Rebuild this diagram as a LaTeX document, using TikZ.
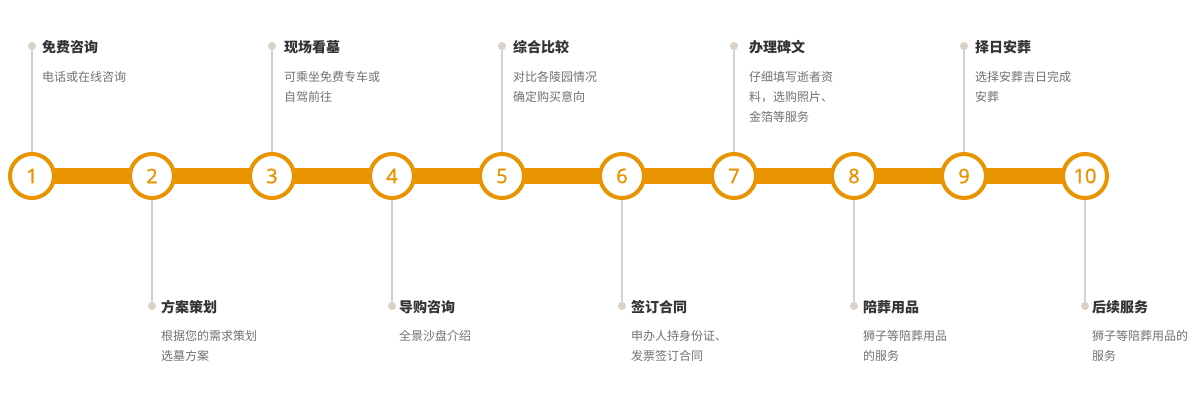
\documentclass[tikz,border=0pt]{standalone}
\usepackage{fontspec}
\setmainfont{Noto Sans CJK SC}
\newfontfamily\numfont{Open Sans}[FakeBold=1.2]
\usetikzlibrary{positioning, backgrounds}
\definecolor{stepOrange}{HTML}{E89300}
\definecolor{stemGray}{HTML}{D9D1C5}
\definecolor{titleGray}{HTML}{333333}
\definecolor{descGray}{HTML}{707070}

\tikzset{
  stepnode/.style={draw=stepOrange, line width=4pt, fill=white, circle, minimum size=44pt, inner sep=0pt, text=stepOrange, font=\numfont\fontsize{20}{20}\selectfont},
  pindot/.style={fill=stemGray, circle, minimum size=8pt, inner sep=0pt},
  stem/.style={stemGray, line width=2pt},
  bar/.style={stepOrange, line width=16pt},
  steptitle/.style={anchor=base west, inner sep=0pt, text=titleGray, font=\bfseries\fontsize{14}{14}\selectfont},
  % base of a wrapped text is its last line
  stepdesc/.style={anchor=base west, inner sep=0pt, align=left, text=descGray, font=\fontsize{12}{20}\selectfont},
}

\begin{document}
\begin{tikzpicture}[x=1pt, y=-1pt]
        \useasboundingbox (0,0) rectangle (1200,400);

        % steps on the bar
        \node[stepnode] (c1) at (32,176) {1};
        \node[stepnode] (c2) at (152,176) {2};
        \node[stepnode] (c3) at (272,176) {3};
        \node[stepnode] (c4) at (392,176) {4};
        \node[stepnode] (c5) at (502,176) {5};
        \node[stepnode] (c6) at (622,176) {6};
        \node[stepnode] (c7) at (734,176) {7};
        \node[stepnode] (c8) at (854,176) {8};
        \node[stepnode] (c9) at (964,176) {9};
        \node[stepnode] (c10) at (1085,176) {10};

        \begin{scope}[on background layer]
            \draw[bar] (c1.center) -- (c10.center);
        \end{scope}

        % pins above
        \node[pindot] (d1) at (32,46) {};
        \node[pindot] (d3) at (272,46) {};
        \node[pindot] (d5) at (502,46) {};
        \node[pindot] (d7) at (734,46) {};
        \node[pindot] (d9) at (964,46) {};

        % pins below
        \node[pindot] (d2) at (152,306) {};
        \node[pindot] (d4) at (392,306) {};
        \node[pindot] (d6) at (622,306) {};
        \node[pindot] (d8) at (854,306) {};
        \node[pindot] (d10) at (1085,306) {};

        \draw[stem] (d1) -- (c1);
        \draw[stem] (d2) -- (c2);
        \draw[stem] (d3) -- (c3);
        \draw[stem] (d4) -- (c4);
        \draw[stem] (d5) -- (c5);
        \draw[stem] (d6) -- (c6);
        \draw[stem] (d7) -- (c7);
        \draw[stem] (d8) -- (c8);
        \draw[stem] (d9) -- (c9);
        \draw[stem] (d10) -- (c10);

        % texts above
        \node[steptitle] (t1) at (42,52) {免费咨询};
        \node[stepdesc] (s1) at (42,81) {电话或在线咨询};
        \node[steptitle] (t3) at (284,52) {现场看墓};
        \node[stepdesc] (s3) at (284,101) {可乘坐免费专车或\\自驾前往};
        \node[steptitle] (t5) at (513,52) {综合比较};
        \node[stepdesc] (s5) at (513,101) {对比各陵园情况\\确定购买意向};
        \node[steptitle] (t7) at (749,52) {办理碑文};
        \node[stepdesc] (s7) at (749,121) {仔细填写逝者资\\料，选购照片、\\金箔等服务};
        \node[steptitle] (t9) at (975,52) {择日安葬};
        \node[stepdesc] (s9) at (975,101) {选择安葬吉日完成\\安葬};

        % texts below
        \node[steptitle] (t2) at (161,312) {方案策划};
        \node[stepdesc] (s2) at (161,360) {根据您的需求策划\\选墓方案};
        \node[steptitle] (t4) at (399,312) {导购咨询};
        \node[stepdesc] (s4) at (399,340) {全景沙盘介绍};
        \node[steptitle] (t6) at (631,312) {签订合同};
        \node[stepdesc] (s6) at (631,360) {申办人持身份证、\\发票签订合同};
        \node[steptitle] (t8) at (863,312) {陪葬用品};
        \node[stepdesc] (s8) at (863,360) {狮子等陪葬用品\\的服务};
        \node[steptitle] (t10) at (1092,312) {后续服务};
        \node[stepdesc] (s10) at (1092,360) {狮子等陪葬用品的\\服务};

\end{tikzpicture}
\end{document}
